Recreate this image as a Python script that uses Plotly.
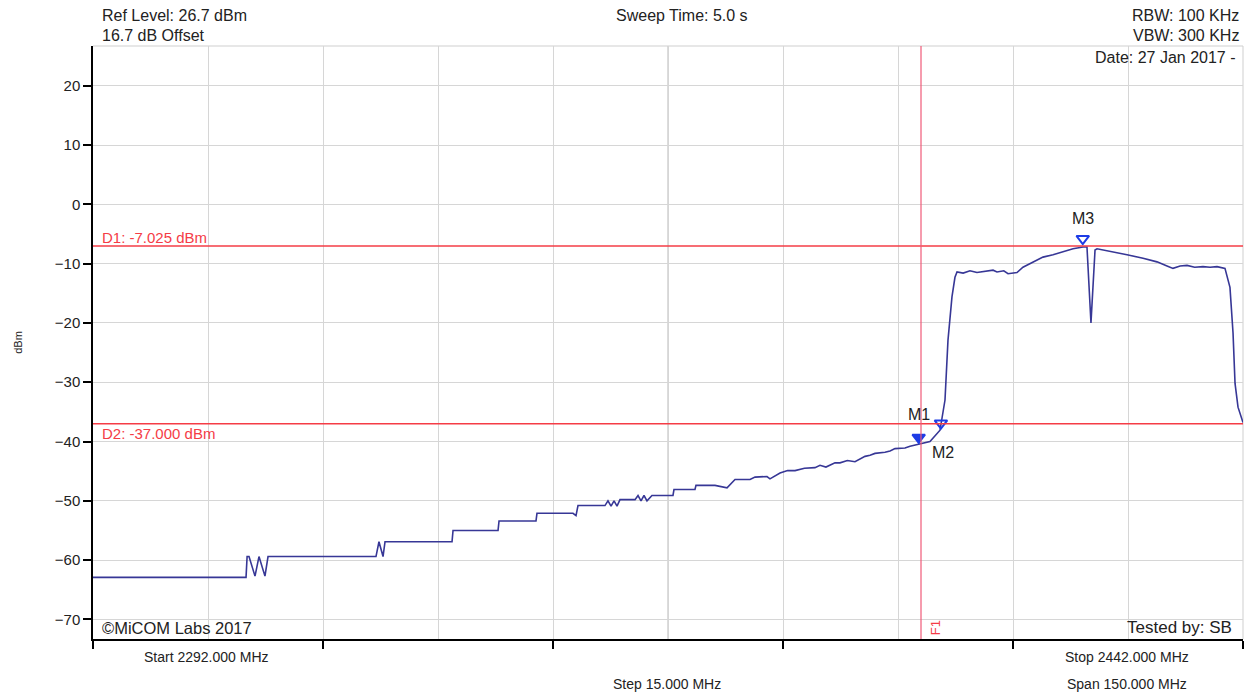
import plotly.graph_objects as go

# trace (MHz, dBm)
freq_mhz = [
    2292.00, 2311.96, 2312.10, 2312.35, 2313.13, 2313.65, 2314.43, 2314.83,
    2328.91, 2329.30, 2329.83, 2330.09, 2338.83, 2338.96, 2344.83, 2344.96,
    2349.78, 2349.91, 2354.61, 2355.00, 2355.26, 2358.78, 2359.17, 2359.57,
    2359.96, 2360.35, 2360.74, 2362.70, 2363.09, 2363.48, 2363.87, 2364.26,
    2364.91, 2367.65, 2367.78, 2370.52, 2370.65, 2373.13, 2374.70, 2375.74,
    2377.70, 2378.35, 2379.91, 2380.30, 2381.61, 2382.60, 2383.57, 2384.80,
    2386.17, 2386.83, 2387.60, 2388.78, 2389.43, 2390.40, 2391.39, 2392.04,
    2392.70, 2393.35, 2394.00, 2395.30, 2395.96, 2396.61, 2397.91, 2398.57,
    2399.87, 2401.17, 2402.48, 2403.13, 2403.52, 2404.04, 2404.43, 2404.70,
    2405.50, 2406.39, 2407.30, 2408.61, 2409.40, 2409.91, 2410.80, 2411.35,
    2412.52, 2413.30, 2414.61, 2415.91, 2417.22, 2418.52, 2419.83, 2421.13,
    2421.65, 2422.17, 2422.70, 2422.96, 2424.65, 2426.87, 2428.96, 2430.78,
    2432.09, 2432.87, 2433.80, 2434.70, 2435.70, 2436.78, 2437.70, 2438.61,
    2439.65, 2440.30, 2440.70, 2440.96, 2441.35, 2442.00,
]
level_dbm = [
    -62.9, -62.9, -59.4, -59.4, -62.7, -59.4, -62.7, -59.4,
    -59.4, -56.9, -59.4, -56.9, -56.9, -55.0, -55.0, -53.4,
    -53.4, -52.1, -52.1, -52.5, -50.8, -50.8, -50.0, -50.9,
    -50.0, -50.9, -49.8, -49.8, -49.1, -50.0, -49.1, -50.0,
    -49.1, -49.1, -48.1, -48.1, -47.4, -47.4, -47.8, -46.4,
    -46.4, -46.0, -45.9, -46.3, -45.3, -44.9, -44.9, -44.5,
    -44.4, -44.0, -44.3, -43.6, -43.6, -43.2, -43.4, -43.0,
    -42.5, -42.3, -42.0, -41.8, -41.6, -41.2, -41.1, -40.8,
    -40.4, -40.0, -38.1, -33.0, -22.9, -15.6, -12.3, -11.4,
    -11.6, -11.2, -11.5, -11.3, -11.1, -11.4, -11.2, -11.7,
    -11.5, -10.6, -9.7, -8.9, -8.5, -8.0, -7.5, -7.2,
    -7.2, -20.0, -7.7, -7.5, -7.9, -8.5, -9.1, -9.7,
    -10.4, -10.8, -10.4, -10.3, -10.6, -10.5, -10.6, -10.5,
    -10.8, -14.0, -21.7, -30.2, -34.2, -36.8,
]

# display lines and markers
d1_level = -7.025
d2_level = -37.0
f1_freq = 2400.0
marker_names = ["M1", "M2", "M3"]
marker_freq = [2399.7, 2402.6, 2421.1]
marker_level = [-39.3, -36.9, -5.8]
marker_symbols = ["triangle-down", "triangle-down-open", "triangle-down-open"]

y_ticks = [-70, -60, -50, -40, -30, -20, -10, 0, 10, 20]
x_start, x_stop = 2292.0, 2442.0
y_bottom, y_top = -73.3, 26.7

FONT = "Liberation Sans, Arial, sans-serif"
RED = "rgb(245,60,70)"
BLUE = "rgb(30,60,230)"

fig = go.Figure()

fig.add_trace(go.Scatter(
    x=freq_mhz, y=level_dbm, mode="lines",
    line=dict(color="rgb(55,55,150)", width=1.6),
    hoverinfo="x+y", showlegend=False,
))

fig.add_trace(go.Scatter(
    x=marker_freq, y=marker_level, mode="markers",
    marker=dict(symbol=marker_symbols, size=11, color=BLUE,
                line=dict(color=BLUE, width=2)),
    showlegend=False, cliponaxis=False,
))

# display lines D1, D2 and frequency line F1
for lvl in (d1_level, d2_level):
    fig.add_shape(type="line", xref="paper", x0=0, x1=1, yref="y", y0=lvl, y1=lvl,
                  line=dict(color=RED, width=1.6))
fig.add_shape(type="line", xref="x", x0=f1_freq, x1=f1_freq, yref="paper", y0=0, y1=1,
              line=dict(color="rgb(240,90,120)", width=1.2))

# darker centre grid line, top/right frame
fig.add_shape(type="line", xref="x", x0=2367, x1=2367, yref="paper", y0=0, y1=1,
              line=dict(color="#b8b8b8", width=1), layer="below")
fig.add_shape(type="line", xref="paper", x0=0, x1=1, yref="paper", y0=1, y1=1,
              line=dict(color="#cfcfcf", width=1), layer="below")
fig.add_shape(type="line", xref="paper", x0=1, x1=1, yref="paper", y0=0, y1=1,
              line=dict(color="#cfcfcf", width=1), layer="below")

txt = dict(family=FONT, size=16, color="#222")
small = dict(family=FONT, size=14, color="#222")


def note(text, x, y, xanchor="left", font=txt, xref="paper", yref="paper", **kw):
    fig.add_annotation(text=text, x=x, y=y, xref=xref, yref=yref, xanchor=xanchor,
                       yanchor="middle", showarrow=False, font=font, **kw)


# header (pixel positions converted to paper fractions: plot 93..1243 x 46..639)
note("Ref Level: 26.7 dBm", 0.006, 1.052)
note("16.7 dB Offset", 0.006, 1.018)
note("Sweep Time: 5.0 s", 0.512, 1.052, xanchor="center")
note("RBW: 100 KHz", 0.998, 1.052, xanchor="right")
note("VBW: 300 KHz", 0.998, 1.018, xanchor="right")
note("Date: 27 Jan 2017 -", 0.996, 0.980, xanchor="right")

note("D1: -7.025 dBm", 0.006, d1_level + 1.5, yref="y",
     font=dict(family=FONT, size=15, color=RED))
note("D2: -37.000 dBm", 0.006, d2_level - 1.7, yref="y",
     font=dict(family=FONT, size=15, color=RED))

for name, fx, fy in zip(marker_names, [2399.8, 2402.9, 2421.1], [-35.4, -41.8, -2.4]):
    note(name, fx, fy, xanchor="center", xref="x", yref="y", font=txt)

note("\u00a9MiCOM Labs 2017", 0.006, 0.019, font=dict(family=FONT, size=16.5, color="#222"))
note("Tested by: SB", 0.992, 0.019, xanchor="right", font=dict(family=FONT, size=17, color="#222"))
note("F1", 2401.9, -71.4, xanchor="center", xref="x", yref="y",
     font=dict(family=FONT, size=13, color=RED), textangle=-90)

note("Start 2292.000 MHz", 0.099, -0.030, xanchor="center", font=small)
note("Stop 2442.000 MHz", 0.899, -0.030, xanchor="center", font=small)
note("Step 15.000 MHz", 0.499, -0.076, xanchor="center", font=small)
note("Span 150.000 MHz", 0.899, -0.076, xanchor="center", font=small)

fig.update_layout(
    width=1250, height=696,
    margin=dict(l=93, r=7, t=46, b=57),
    paper_bgcolor="white", plot_bgcolor="white",
    font=dict(family=FONT, color="#222"),
    showlegend=False,
    xaxis=dict(
        range=[x_start, x_stop], showticklabels=False,
        tickmode="linear", tick0=x_start, dtick=30,
        ticks="outside", ticklen=8, tickcolor="black", tickwidth=1.5,
        showgrid=True, gridcolor="#d6d6d6", gridwidth=1,
        minor=dict(tickmode="linear", tick0=x_start, dtick=15, showgrid=True,
                   gridcolor="#d6d6d6", ticks=""),
        showline=True, linecolor="black", linewidth=1.5,
        zeroline=False, fixedrange=True,
    ),
    yaxis=dict(
        range=[y_bottom, y_top], tickmode="array", tickvals=y_ticks,
        ticks="outside", ticklen=8, tickcolor="black", tickwidth=1.5,
        tickfont=dict(family=FONT, size=15, color="#222"),
        showgrid=True, gridcolor="#d6d6d6", gridwidth=1,
        showline=True, linecolor="black", linewidth=1.5,
        zeroline=False, fixedrange=True,
        title=dict(text="dBm", font=dict(family=FONT, size=11, color="#222"), standoff=30),
    ),
)

# drop the page's default body margin so the figure fills the window exactly
fig.write_html("out.html", config={"displayModeBar": False},
               post_script="document.body.style.margin='0';document.body.style.overflow='hidden';")
